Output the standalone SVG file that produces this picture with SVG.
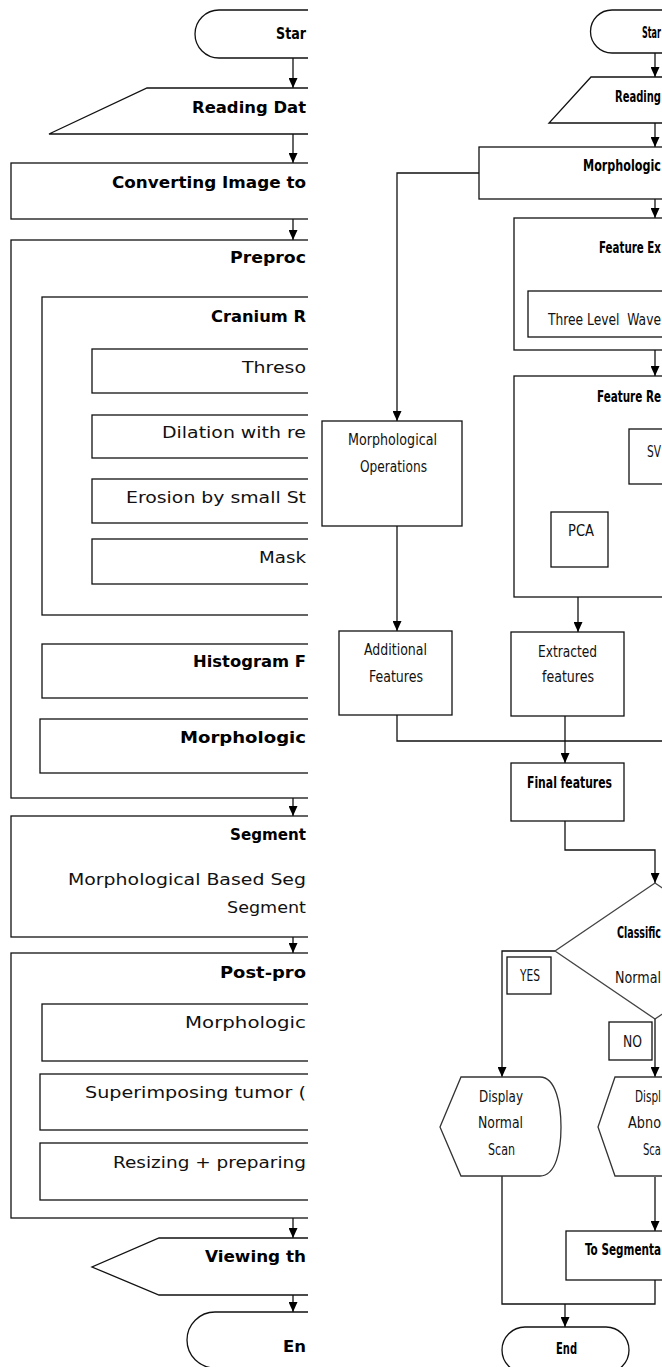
<svg xmlns="http://www.w3.org/2000/svg" width="662" height="1367" viewBox="0 0 662 1367">
<style>
.bx{fill:#fff;stroke:#111;stroke-width:1.3}
.ln{fill:none;stroke:#111;stroke-width:1.3}
.lt{font-family:"DejaVu Sans",Verdana,sans-serif;font-size:15px;fill:#111}
.ltb{font-family:"DejaVu Sans",Verdana,sans-serif;font-size:16px;font-weight:bold;fill:#000}
.rt{font-family:"DejaVu Sans Condensed","DejaVu Sans",sans-serif;font-size:15px;fill:#111;white-space:pre}
.rtb{font-family:"DejaVu Sans Condensed","DejaVu Sans",sans-serif;font-size:15px;font-weight:bold;fill:#000}
</style>
<defs>
<marker id="ah" markerWidth="10" markerHeight="9" refX="10" refY="4.5" orient="auto" markerUnits="userSpaceOnUse" viewBox="0 0 10 9">
<path d="M0,0 L10,4.5 L0,9 Z" fill="#000"/>
</marker>
<clipPath id="cl"><rect x="0" y="0" width="308" height="1367"/></clipPath>
</defs>
<rect width="662" height="1367" fill="#fff"/>

<!-- LEFT FLOWCHART -->
<g clip-path="url(#cl)">
<g id="connectors-left">
<line class="ln" x1="293" y1="58" x2="293" y2="88" marker-end="url(#ah)"/>
<line class="ln" x1="293" y1="134" x2="293" y2="163" marker-end="url(#ah)"/>
<line class="ln" x1="293" y1="219" x2="293" y2="240" marker-end="url(#ah)"/>
<line class="ln" x1="293" y1="798" x2="293" y2="816" marker-end="url(#ah)"/>
<line class="ln" x1="293" y1="937" x2="293" y2="953" marker-end="url(#ah)"/>
<line class="ln" x1="293" y1="1218" x2="293" y2="1238" marker-end="url(#ah)"/>
<line class="ln" x1="293" y1="1295" x2="293" y2="1312" marker-end="url(#ah)"/>
</g>
<g id="l-start"><path class="bx" d="M219,10 H330 V58 H219 A24,24 0 0 1 219,10 Z"/><text class="ltb" x="276" y="39" textLength="30" lengthAdjust="spacingAndGlyphs">Star</text></g>
<g id="l-reading"><path class="bx" d="M147,88 H330 V134 H49 Z"/><text class="ltb" x="192" y="113" textLength="114" lengthAdjust="spacingAndGlyphs">Reading Dat</text></g>
<g id="l-convert"><rect class="bx" x="11" y="163" width="320" height="56"/><text class="ltb" x="112" y="188" textLength="194" lengthAdjust="spacingAndGlyphs">Converting Image to</text></g>
<g id="l-preproc"><rect class="bx" x="11" y="240" width="320" height="558"/><text class="ltb" x="230" y="263" textLength="76" lengthAdjust="spacingAndGlyphs">Preproc</text></g>
<g id="l-cranium"><rect class="bx" x="42" y="297" width="290" height="318"/><text class="ltb" x="211" y="322" textLength="95" lengthAdjust="spacingAndGlyphs">Cranium R</text></g>
<g id="l-thresh"><rect class="bx" x="92" y="349" width="240" height="44"/><text class="lt" x="242" y="373" textLength="64" lengthAdjust="spacingAndGlyphs">Threso</text></g>
<g id="l-dilation"><rect class="bx" x="92" y="415" width="240" height="43"/><text class="lt" x="162" y="438" textLength="144" lengthAdjust="spacingAndGlyphs">Dilation with re</text></g>
<g id="l-erosion"><rect class="bx" x="92" y="479" width="240" height="44"/><text class="lt" x="126" y="503" textLength="180" lengthAdjust="spacingAndGlyphs">Erosion by small St</text></g>
<g id="l-mask"><rect class="bx" x="92" y="539" width="240" height="45"/><text class="lt" x="259" y="563" textLength="47" lengthAdjust="spacingAndGlyphs">Mask</text></g>
<g id="l-hist"><rect class="bx" x="42" y="644" width="290" height="54"/><text class="ltb" x="193" y="667" textLength="113" lengthAdjust="spacingAndGlyphs">Histogram F</text></g>
<g id="l-morph1"><rect class="bx" x="40" y="719" width="292" height="54"/><text class="ltb" x="180" y="743" textLength="126" lengthAdjust="spacingAndGlyphs">Morphologic</text></g>
<g id="l-seg"><rect class="bx" x="11" y="816" width="320" height="121"/><text class="ltb" x="230" y="840" textLength="76" lengthAdjust="spacingAndGlyphs">Segment</text><text class="lt" x="68" y="885" textLength="238" lengthAdjust="spacingAndGlyphs">Morphological Based Seg</text><text class="lt" x="227" y="913" textLength="79" lengthAdjust="spacingAndGlyphs">Segment</text></g>
<g id="l-post"><rect class="bx" x="11" y="953" width="320" height="265"/><text class="ltb" x="220" y="978" textLength="86" lengthAdjust="spacingAndGlyphs">Post-pro</text></g>
<g id="l-morph2"><rect class="bx" x="42" y="1004" width="290" height="57"/><text class="lt" x="185" y="1028" textLength="121" lengthAdjust="spacingAndGlyphs">Morphologic</text></g>
<g id="l-super"><rect class="bx" x="40" y="1074" width="292" height="56"/><text class="lt" x="85" y="1098" textLength="221" lengthAdjust="spacingAndGlyphs">Superimposing tumor (</text></g>
<g id="l-resize"><rect class="bx" x="40" y="1143" width="292" height="57"/><text class="lt" x="113" y="1168" textLength="193" lengthAdjust="spacingAndGlyphs">Resizing + preparing</text></g>
<g id="l-view"><path class="bx" d="M159,1238 H330 V1295 H159 L92,1267 Z"/><text class="ltb" x="205" y="1262" textLength="101" lengthAdjust="spacingAndGlyphs">Viewing th</text></g>
<g id="l-end"><path class="bx" d="M215,1312 H330 V1368 H215 A28,28 0 0 1 215,1312 Z"/><text class="ltb" x="283" y="1352" textLength="23" lengthAdjust="spacingAndGlyphs">En</text></g>
</g>

<!-- RIGHT FLOWCHART -->
<g id="connectors-right">
<line class="ln" x1="655" y1="53" x2="655" y2="77" marker-end="url(#ah)"/>
<line class="ln" x1="655" y1="123" x2="655" y2="147" marker-end="url(#ah)"/>
<line class="ln" x1="655" y1="199" x2="655" y2="218" marker-end="url(#ah)"/>
<polyline class="ln" points="479,173 397,173 397,421" marker-end="url(#ah)"/>
<line class="ln" x1="655" y1="350" x2="655" y2="376" marker-end="url(#ah)"/>
<polyline class="ln" points="629,458 578,458 578,512" marker-end="url(#ah)"/>
<line class="ln" x1="608" y1="538" x2="700" y2="538"/>
<line class="ln" x1="578" y1="567" x2="578" y2="632" marker-end="url(#ah)"/>
<line class="ln" x1="397" y1="526" x2="397" y2="631" marker-end="url(#ah)"/>
<polyline class="ln" points="397,715 397,741 700,741"/>
<line class="ln" x1="565" y1="716" x2="565" y2="763" marker-end="url(#ah)"/>
<polyline class="ln" points="565,821 565,850 655,850 655,883" marker-end="url(#ah)"/>
<polyline class="ln" points="555,951 502,951 502,1077" marker-end="url(#ah)"/>
<line class="ln" x1="655" y1="1019" x2="655" y2="1077" marker-end="url(#ah)"/>
<polyline class="ln" points="502,1176 502,1304 655,1304 655,1280"/>
<line class="ln" x1="655" y1="1177" x2="655" y2="1231" marker-end="url(#ah)"/>
<line class="ln" x1="565" y1="1304" x2="565" y2="1327" marker-end="url(#ah)"/>
</g>
<g id="r-start"><path class="bx" d="M612,10 H700 V53 H612 A21.5,21.5 0 0 1 612,10 Z"/><text class="rtb" x="642" y="38" textLength="19" lengthAdjust="spacingAndGlyphs">Star</text></g>
<g id="r-reading"><path class="bx" d="M591,77 H700 V123 H549 Z"/><text class="rtb" x="615" y="102" textLength="46" lengthAdjust="spacingAndGlyphs">Reading</text></g>
<g id="r-morph"><rect class="bx" x="479" y="147" width="230" height="52"/><text class="rtb" x="583" y="171" textLength="78" lengthAdjust="spacingAndGlyphs">Morphologic</text></g>
<g id="r-featext"><rect class="bx" x="514" y="218" width="200" height="132"/><text class="rtb" x="599" y="253" textLength="62" lengthAdjust="spacingAndGlyphs">Feature Ex</text></g>
<g id="r-wavelet"><rect class="bx" x="528" y="291" width="190" height="46"/><text class="rt" x="548" y="325" textLength="113" lengthAdjust="spacingAndGlyphs">Three Level  Wave</text></g>
<g id="r-featred"><rect class="bx" x="514" y="376" width="200" height="221"/><text class="rtb" x="597" y="402" textLength="64" lengthAdjust="spacingAndGlyphs">Feature Re</text></g>
<g id="r-svd"><rect class="bx" x="629" y="429" width="80" height="55"/><text class="rt" x="647" y="457" textLength="14" lengthAdjust="spacingAndGlyphs">SV</text></g>
<g id="r-pca"><rect class="bx" x="551" y="512" width="57" height="55"/><text class="rt" x="568" y="536" textLength="26" lengthAdjust="spacingAndGlyphs">PCA</text></g>
<g id="r-morphops"><rect class="bx" x="322" y="421" width="140" height="105"/><text class="rt" x="348" y="445" textLength="89" lengthAdjust="spacingAndGlyphs">Morphological</text><text class="rt" x="360" y="472" textLength="67" lengthAdjust="spacingAndGlyphs">Operations</text></g>
<g id="r-additional"><rect class="bx" x="339" y="631" width="113" height="84"/><text class="rt" x="364" y="655" textLength="63" lengthAdjust="spacingAndGlyphs">Additional</text><text class="rt" x="369" y="682" textLength="54" lengthAdjust="spacingAndGlyphs">Features</text></g>
<g id="r-extracted"><rect class="bx" x="511" y="632" width="113" height="84"/><text class="rt" x="538" y="657" textLength="59" lengthAdjust="spacingAndGlyphs">Extracted</text><text class="rt" x="542" y="682" textLength="52" lengthAdjust="spacingAndGlyphs">features</text></g>
<g id="r-final"><rect class="bx" x="511" y="763" width="113" height="58"/><text class="rtb" x="527" y="788" textLength="85" lengthAdjust="spacingAndGlyphs">Final features</text></g>
<g id="r-classify"><path class="bx" d="M655,883 L755,951 L655,1019 L555,951 Z" style="stroke:#444"/><text class="rtb" x="617" y="938" textLength="44" lengthAdjust="spacingAndGlyphs">Classific</text><text class="rt" x="615" y="983" textLength="46" lengthAdjust="spacingAndGlyphs">Normal</text></g>
<g id="r-yes"><rect class="bx" x="507" y="957" width="44" height="37"/><text class="rt" x="520" y="981" textLength="20" lengthAdjust="spacingAndGlyphs">YES</text></g>
<g id="r-no"><rect class="bx" x="609" y="1022" width="43" height="38"/><text class="rt" x="623" y="1047" textLength="19" lengthAdjust="spacingAndGlyphs">NO</text></g>
<g id="r-dispnormal"><path class="bx" d="M461,1077 H540 C556,1077 561,1105 561,1127 C561,1150 556,1176 540,1176 H461 L440,1127 Z" style="stroke:#333"/><text class="rt" x="479" y="1102" textLength="44" lengthAdjust="spacingAndGlyphs">Display</text><text class="rt" x="478" y="1128" textLength="45" lengthAdjust="spacingAndGlyphs">Normal</text><text class="rt" x="488" y="1155" textLength="27" lengthAdjust="spacingAndGlyphs">Scan</text></g>
<g id="r-dispabn"><path class="bx" d="M615,1077 H700 V1176 H615 L598,1127 Z" style="stroke:#333"/><text class="rt" x="635" y="1102" textLength="26" lengthAdjust="spacingAndGlyphs">Displ</text><text class="rt" x="628" y="1128" textLength="33" lengthAdjust="spacingAndGlyphs">Abno</text><text class="rt" x="643" y="1155" textLength="18" lengthAdjust="spacingAndGlyphs">Sca</text></g>
<g id="r-toseg"><rect class="bx" x="566" y="1231" width="150" height="49"/><text class="rtb" x="585" y="1255" textLength="76" lengthAdjust="spacingAndGlyphs">To Segmenta</text></g>
<g id="r-end"><path class="bx" d="M525,1327 H606 A23,23 0 0 1 606,1373 H525 A23,23 0 0 1 525,1327 Z"/><text class="rtb" x="556" y="1354" textLength="21" lengthAdjust="spacingAndGlyphs">End</text></g>
</svg>
